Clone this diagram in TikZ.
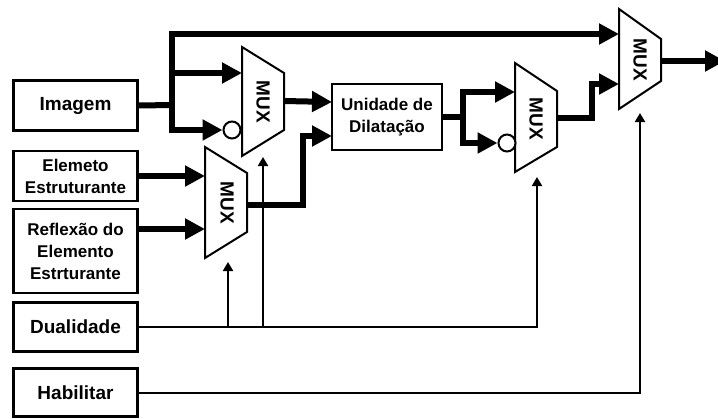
\documentclass[tikz,border=0pt]{standalone}
\usepackage{fontspec}
\setmainfont{Liberation Sans}
\usetikzlibrary{arrows.meta}
\begin{document}
\begin{tikzpicture}[x=1pt,y=-1pt,
  box/.style={draw, line width=2.2pt, fill=white, minimum width=124pt, inner sep=0pt, align=center, font=\bfseries\fontsize{19}{22}\selectfont},
  sbox/.style={box, font=\bfseries\fontsize{17}{22}\selectfont},
  bus/.style={line width=6pt, line join=miter},
  bt/.style={-{Triangle[length=20pt,width=20pt]}},
  btt/.style={{Triangle[length=20pt,width=20pt]}-{Triangle[length=20pt,width=20pt]}},
  sel/.style={line width=2pt, line join=miter},
  st/.style={-{Triangle[length=9pt,width=10pt]}},
  muxs/.style={draw, line width=2pt, line join=miter, fill=white},
  muxlbl/.style={rotate=-90, inner sep=0pt, font=\bfseries\fontsize{19}{22}\selectfont},
  inv/.style={circle, draw, line width=2pt, fill=white, minimum size=17pt, inner sep=0pt}
]
\useasboundingbox (0,0) rectangle (718,418);

% input boxes
\node[box, minimum height=50pt] (img) at (75.5,105.5) {Imagem};
\node[sbox, minimum height=50pt] (elem) at (75.5,176) {Elemeto\\Estruturante};
\node[sbox, minimum height=84pt] (refl) at (75.5,251) {Reflexão do\\Elemento\\Estrturante};
\node[box, minimum height=49pt] (dual) at (75.5,327) {Dualidade};
\node[box, minimum height=48pt] (hab) at (75.5,392.5) {Habilitar};
\node[sbox, minimum width=110pt, minimum height=66pt] (dil) at (387,117) {Unidade de\\Dilatação};

% multiplexers
\draw[muxs] (242,47) -- (284,73) -- (284,130) -- (242,156) -- cycle;
\node[muxlbl] (mux1) at (263,102) {MUX};
\draw[muxs] (205,147) -- (247,173) -- (247,232) -- (205,258) -- cycle;
\node[muxlbl] (mux2) at (227,203) {MUX};
\draw[muxs] (619,9) -- (661,39) -- (661,81) -- (619,109) -- cycle;
\node[muxlbl] (mux3) at (640,60) {MUX};
\draw[muxs] (515,63) -- (557,91) -- (557,147) -- (515,172) -- cycle;
\node[muxlbl] (mux4) at (536,119) {MUX};

\node[inv] (c1) at (232,130) {};
\node[inv] (c4) at (507,143) {};

% ports
\coordinate (m1in1) at (242,73);
\coordinate (m1out) at (284,101);
\coordinate (m1sel) at (263,157);
\coordinate (m2in1) at (205,176);
\coordinate (m2in2) at (205,229);
\coordinate (m2out) at (247,205);
\coordinate (m2sel) at (228,262);
\coordinate (m3in1) at (619,34);
\coordinate (m3in2) at (619,84);
\coordinate (m3out) at (661,61);
\coordinate (m3sel) at (640,113);
\coordinate (m4in1) at (515,92);
\coordinate (m4out) at (557,118);
\coordinate (m4sel) at (537,177);
\coordinate (dIn1) at (332,102);
\coordinate (dIn2) at (332,136);
\coordinate (outEnd) at (725,61);

% junctions
\coordinate (jImg) at (172,105);
\coordinate (jTop) at (172,34);
\coordinate (jLow) at (172,130);
\coordinate (jMid) at (172,73);
\coordinate (jM2) at (303,205);
\coordinate (jB) at (463,117);
\coordinate (jBt) at (463,92);
\coordinate (jBb) at (463,143);
\coordinate (jM4) at (592,118);
\coordinate (jD4) at (537,327);
\coordinate (jD2) at (228,327);
\coordinate (jD1) at (263,327);
\coordinate (jH) at (640,392.5);

% data buses
\draw[bus] (img.east) -- (jImg);
\draw[bus, btt] (m3in1) -- (jTop) -- (jLow) -- (c1.west);
\draw[bus, bt] (jMid) -- (m1in1);
\draw[bus, bt] (m1out) -- (dIn1);
\draw[bus, bt] (elem.east |- m2in1) -- (m2in1);
\draw[bus, bt] (refl.east |- m2in2) -- (m2in2);
\draw[bus, bt] (m2out) -- (jM2) |- (dIn2);
\draw[bus] (dil.east) -- (jB);
\draw[bus, btt] (m4in1) -- (jBt) -- (jBb) -- (c4.west);
\draw[bus, bt] (m4out) -- (jM4) |- (m3in2);
\draw[bus, bt] (m3out) -- (outEnd);

% select lines
\draw[sel, st] (dual.east) -- (jD4) -- (m4sel);
\draw[sel, st] (jD2) -- (m2sel);
\draw[sel, st] (jD1) -- (m1sel);
\draw[sel, st] (hab.east) -- (jH) -- (m3sel);
\end{tikzpicture}
\end{document}
